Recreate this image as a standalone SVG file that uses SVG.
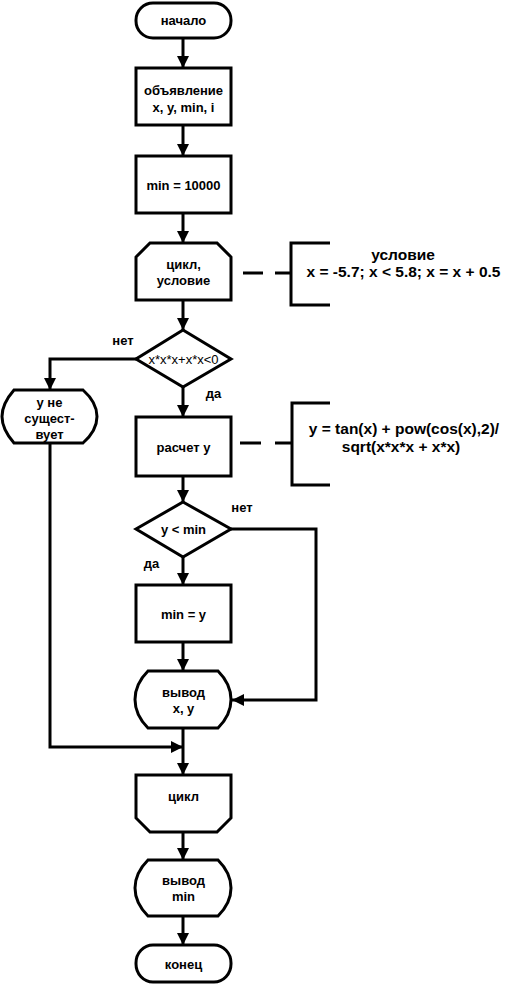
<svg xmlns="http://www.w3.org/2000/svg" width="505" height="985" viewBox="0 0 505 985">
<style>
.s{fill:#fff;stroke:#000;stroke-width:3}
.t{font-family:"Liberation Sans",Arial,sans-serif;font-size:13px;font-weight:bold;text-anchor:middle;fill:#000}
.r{font-family:"Liberation Sans",Arial,sans-serif;font-size:13px;text-anchor:middle;fill:#000}
.b{font-family:"Liberation Sans",Arial,sans-serif;font-size:15.5px;font-weight:bold;text-anchor:middle;fill:#000}
.c{fill:none;stroke:#000;stroke-width:3}
</style>
<defs>
<marker id="a" markerUnits="userSpaceOnUse" markerWidth="12" markerHeight="12" refX="12" refY="6" orient="auto">
<path d="M0,0 L12,6 L0,12 Z" fill="#000"/>
</marker>
</defs>
<rect width="505" height="985" fill="#fff"/>
<g id="connectors">
<path class="c" d="M183,38 V68" marker-end="url(#a)"/>
<path class="c" d="M183,125 V156" marker-end="url(#a)"/>
<path class="c" d="M183,213 V243" marker-end="url(#a)"/>
<path class="c" d="M183,300 V330" marker-end="url(#a)"/>
<path class="c" d="M136,359 H50 V390" marker-end="url(#a)"/>
<path class="c" d="M183,387 V417" marker-end="url(#a)"/>
<path class="c" d="M183,476 V502" marker-end="url(#a)"/>
<path class="c" d="M183,557 V585" marker-end="url(#a)"/>
<path class="c" d="M231,529 H316 V700 H232" marker-end="url(#a)"/>
<path class="c" d="M183,642 V671" marker-end="url(#a)"/>
<path class="c" d="M50,443 V747 H183" marker-end="url(#a)"/>
<path class="c" d="M183,728 V775" marker-end="url(#a)"/>
<path class="c" d="M183,832 V860" marker-end="url(#a)"/>
<path class="c" d="M183,916 V945" marker-end="url(#a)"/>
<path class="c" d="M243,273 H263 M275,273 H291"/>
<path class="c" d="M240,443 H261 M275,443 H292"/>
<text class="t" x="123" y="344.5">нет</text>
<text class="t" x="213.5" y="397.5">да</text>
<text class="t" x="242" y="511.5">нет</text>
<text class="t" x="151.5" y="567.5">да</text>
</g>
<g id="start">
<rect class="s" x="136" y="3" width="95" height="35" rx="17" ry="17"/>
<text class="t" x="183.5" y="25">начало</text>
</g>
<g id="decl">
<rect class="s" x="136" y="68" width="95" height="57"/>
<text class="t" x="183.5" y="94.5">объявление</text>
<text class="t" x="183.5" y="111.5">x, y, min, i</text>
</g>
<g id="init">
<rect class="s" x="136" y="156" width="95" height="57"/>
<text class="t" x="183.5" y="189.5">min = 10000</text>
</g>
<g id="loopStart">
<path class="s" d="M150,243 H217 L231,257 V300 H136 V257 Z"/>
<text class="t" x="183.5" y="268.5">цикл,</text>
<text class="t" x="183.5" y="284.5">условие</text>
</g>
<g id="loopNote">
<path class="c" d="M330,243 H291 V305 H330"/>
<text class="b" x="403" y="260">условие</text>
<text class="b" x="403.5" y="277">x = -5.7; x &lt; 5.8; x = x + 0.5</text>
</g>
<g id="cond1">
<path class="s" d="M183,330 L231,359 L183,387 L136,359 Z"/>
<text class="r" x="183.5" y="363.5">x*x*x+x*x&lt;0</text>
</g>
<g id="noY">
<path class="s" d="M14,390 H83 C92,398 97,408 97,416.5 C97,425 92,435 83,443 H14 C7,435 2,425 2,416.5 C2,408 7,398 14,390 Z"/>
<text class="t" x="49.5" y="406.5">у не</text>
<text class="t" x="49.5" y="422.5">сущест-</text>
<text class="t" x="49.5" y="438.5">вует</text>
</g>
<g id="calc">
<rect class="s" x="136" y="417" width="95" height="59"/>
<text class="t" x="183.5" y="451.5">расчет у</text>
</g>
<g id="calcNote">
<path class="c" d="M330,403 H292 V485 H330"/>
<text class="b" x="404" y="434">y = tan(x) + pow(cos(x),2)/</text>
<text class="b" x="401" y="452">sqrt(x*x*x + x*x)</text>
</g>
<g id="cond2">
<path class="s" d="M183,502 L231,529 L183,557 L136,529 Z"/>
<text class="t" x="183.5" y="533.5">y &lt; min</text>
</g>
<g id="setMin">
<rect class="s" x="136" y="585" width="95" height="57"/>
<text class="t" x="183.5" y="618.5">min = y</text>
</g>
<g id="outXY">
<path class="s" d="M148,671 H218 C226,679 231,689 231,699.5 C231,710 226,720 218,728 H148 C140,720 135,710 135,699.5 C135,689 140,679 148,671 Z"/>
<text class="t" x="183.5" y="696.5">вывод</text>
<text class="t" x="183.5" y="712.5">x, y</text>
</g>
<g id="loopEnd">
<path class="s" d="M136,775 H231 V818 L217,832 H150 L136,818 Z"/>
<text class="t" x="183.5" y="800.5">цикл</text>
</g>
<g id="outMin">
<path class="s" d="M148,860 H218 C226,868 231,878 231,888 C231,898 226,908 218,916 H148 C140,908 135,898 135,888 C135,878 140,868 148,860 Z"/>
<text class="t" x="183.5" y="884.5">вывод</text>
<text class="t" x="183.5" y="900.5">min</text>
</g>
<g id="end">
<rect class="s" x="136" y="945" width="95" height="37" rx="17" ry="18"/>
<text class="t" x="183.5" y="968.5">конец</text>
</g>
</svg>
